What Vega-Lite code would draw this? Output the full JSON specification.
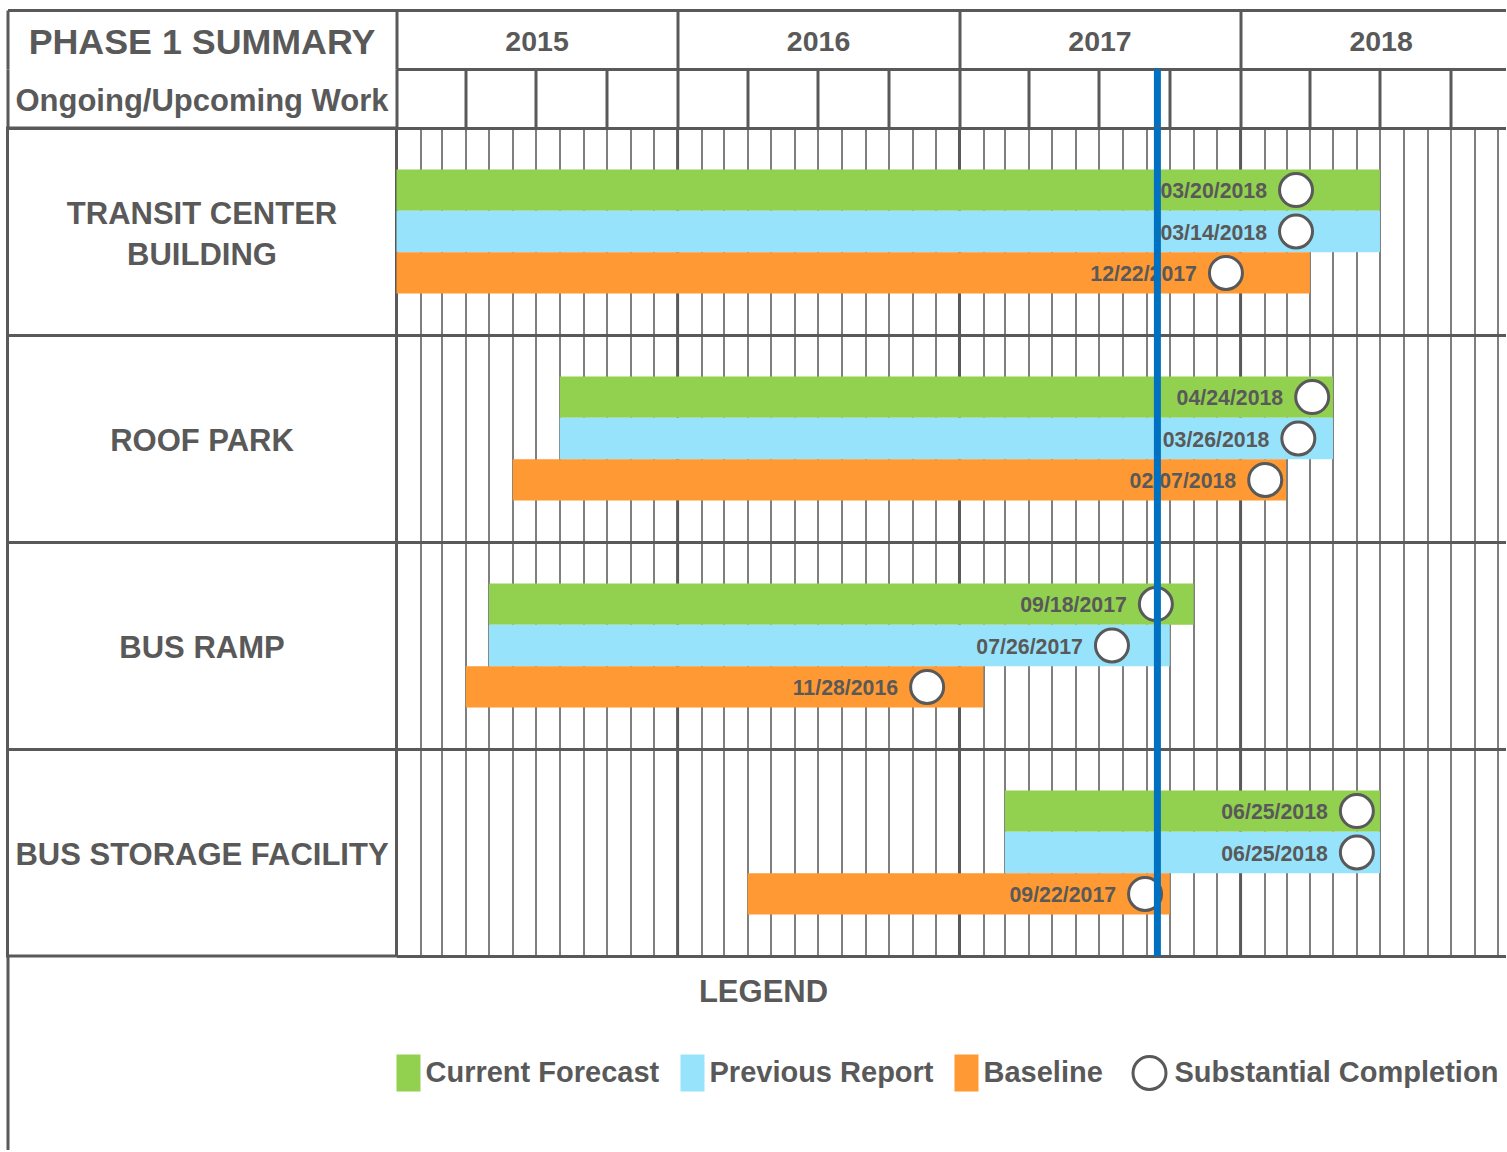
{
  "$schema": "https://vega.github.io/schema/vega-lite/v6.json",
  "padding": {"left": 5.5, "top": 10, "right": 0, "bottom": 0},
  "background": "white",
  "columns": 2,
  "spacing": 0,
  "bounds": "flush",
  "config": {
    "view": {"stroke": null},
    "font": "Liberation Sans",
    "axis": {"labels": false, "ticks": false, "title": null}
  },
  "resolve": {
    "scale": {"color": "independent", "stroke": "independent"},
    "legend": {"color": "independent", "stroke": "independent"}
  },
  "datasets": {
    "years": [
      {"year": "2015", "start": "2015-01-01"},
      {"year": "2016", "start": "2016-01-01"},
      {"year": "2017", "start": "2017-01-01"},
      {"year": "2018", "start": "2018-01-01"}
    ],
    "today": [{"date": "2017-09-15"}],
    "tasks": [
      {"task": "TRANSIT CENTER\nBUILDING"},
      {"task": "ROOF PARK"},
      {"task": "BUS RAMP"},
      {"task": "BUS STORAGE FACILITY"}
    ],
    "schedule": [
      {"task": "TRANSIT CENTER\nBUILDING", "series": "Current Forecast", "start": "2015-01-01", "end": "2018-07-01", "marker": "2018-03-14", "label": "03/20/2018"},
      {"task": "TRANSIT CENTER\nBUILDING", "series": "Previous Report", "start": "2015-01-01", "end": "2018-07-01", "marker": "2018-03-14", "label": "03/14/2018"},
      {"task": "TRANSIT CENTER\nBUILDING", "series": "Baseline", "start": "2015-01-01", "end": "2018-04-01", "marker": "2017-12-13", "label": "12/22/2017"},
      {"task": "ROOF PARK", "series": "Current Forecast", "start": "2015-08-01", "end": "2018-05-01", "marker": "2018-04-04", "label": "04/24/2018"},
      {"task": "ROOF PARK", "series": "Previous Report", "start": "2015-08-01", "end": "2018-05-01", "marker": "2018-03-17", "label": "03/26/2018"},
      {"task": "ROOF PARK", "series": "Baseline", "start": "2015-06-01", "end": "2018-03-01", "marker": "2018-02-02", "label": "02/07/2018"},
      {"task": "BUS RAMP", "series": "Current Forecast", "start": "2015-05-01", "end": "2017-11-01", "marker": "2017-09-13", "label": "09/18/2017"},
      {"task": "BUS RAMP", "series": "Previous Report", "start": "2015-05-01", "end": "2017-10-01", "marker": "2017-07-18", "label": "07/26/2017"},
      {"task": "BUS RAMP", "series": "Baseline", "start": "2015-04-01", "end": "2017-02-01", "marker": "2016-11-20", "label": "11/28/2016"},
      {"task": "BUS STORAGE FACILITY", "series": "Current Forecast", "start": "2017-03-01", "end": "2018-07-01", "marker": "2018-06-01", "label": "06/25/2018"},
      {"task": "BUS STORAGE FACILITY", "series": "Previous Report", "start": "2017-03-01", "end": "2018-07-01", "marker": "2018-06-01", "label": "06/25/2018"},
      {"task": "BUS STORAGE FACILITY", "series": "Baseline", "start": "2016-04-01", "end": "2017-10-01", "marker": "2017-08-30", "label": "09/22/2017"}
    ],
    "legendBars": [
      {"item": "Current Forecast"},
      {"item": "Previous Report"},
      {"item": "Baseline"}
    ],
    "legendMarker": [
      {"item": "Substantial Completion"}
    ]
  },
  "concat": [
    {
      "width": 389,
      "height": 59,
      "data": {"values": [{"text": "PHASE 1 SUMMARY"}]},
      "mark": {"type": "text", "fontSize": 35.8, "fontWeight": "bold", "color": "#595959", "baseline": "middle", "dy": 3},
      "encoding": {
        "x": {"field": "text", "type": "nominal", "axis": {"orient": "top", "labels": false, "ticks": false, "title": null, "domain": true, "domainColor": "#595959", "domainWidth": 3, "grid": false}},
        "y": {"field": "text", "type": "nominal", "axis": {"orient": "left", "labels": false, "ticks": false, "title": null, "domain": true, "domainColor": "#595959", "domainWidth": 3, "grid": false}},
        "text": {"field": "text"}
      }
    },
    {
      "width": 1109,
      "height": 59,
      "data": {"name": "years"},
      "mark": {"type": "text", "fontSize": 28.5, "fontWeight": "bold", "color": "#595959", "baseline": "middle", "dy": 2.5},
      "encoding": {
        "x": {
          "field": "start", "type": "temporal", "timeUnit": "utcyear", "bandPosition": 0.5,
          "scale": {"type": "utc", "domain": [{"year": 2015, "month": 1, "date": 1, "utc": true}, {"year": 2018, "month": 12, "date": 11, "utc": true}], "nice": false},
          "axis": {"orient": "top", "labels": false, "ticks": false, "title": null, "domain": true, "domainColor": "#595959", "domainWidth": 3, "grid": true, "gridColor": "#595959", "gridWidth": 3, "gridOpacity": 1, "gridDash": [], "tickCount": {"interval": "year", "step": 1}}
        },
        "text": {"field": "year"}
      }
    },
    {
      "width": 389,
      "height": 59,
      "data": {"values": [{"text": "Ongoing/Upcoming Work"}]},
      "mark": {"type": "text", "fontSize": 31, "fontWeight": "bold", "color": "#595959", "baseline": "middle", "dy": 3.5},
      "encoding": {
        "y": {"field": "text", "type": "nominal", "axis": {"orient": "left", "labels": false, "ticks": false, "title": null, "domain": true, "domainColor": "#595959", "domainWidth": 3, "grid": false}},
        "text": {"field": "text"}
      }
    },
    {
      "width": 1109,
      "height": 59,
      "data": {"name": "today"},
      "mark": {"type": "rule", "color": "#0070c0", "strokeWidth": 7},
      "encoding": {
        "x": {
          "field": "date", "type": "temporal",
          "scale": {"type": "utc", "domain": [{"year": 2015, "month": 1, "date": 1, "utc": true}, {"year": 2018, "month": 12, "date": 11, "utc": true}], "nice": false},
          "axis": {"orient": "top", "labels": false, "ticks": false, "title": null, "domain": true, "domainColor": "#595959", "domainWidth": 3, "grid": true, "gridColor": "#595959", "gridWidth": 3, "gridOpacity": 1, "gridDash": [], "tickCount": {"interval": "month", "step": 3}}
        }
      }
    },
    {
      "width": 389,
      "height": 828,
      "view": {"stroke": "#595959", "strokeWidth": 3},
      "data": {"name": "tasks"},
      "encoding": {
        "y": {
          "field": "task", "type": "nominal",
          "sort": ["TRANSIT CENTER\nBUILDING", "ROOF PARK", "BUS RAMP", "BUS STORAGE FACILITY"],
          "scale": {"type": "band", "paddingInner": 0, "paddingOuter": 0},
          "axis": {"grid": true, "bandPosition": 0, "gridColor": "#595959", "gridWidth": 3, "gridOpacity": 1, "labels": false, "ticks": false, "domain": false, "title": null}
        },
        "text": {"field": "task"}
      },
      "layer": [
        {
          "transform": [{"filter": "indexof(datum.task, '\\n') < 0"}],
          "mark": {"type": "text", "fontSize": 31, "fontWeight": "bold", "color": "#595959", "baseline": "middle", "dy": 3.5}
        },
        {
          "transform": [{"filter": "indexof(datum.task, '\\n') >= 0"}],
          "mark": {"type": "text", "fontSize": 31, "fontWeight": "bold", "color": "#595959", "lineBreak": "\n", "lineHeight": 41, "baseline": "middle", "dy": -17}
        }
      ]
    },
    {
      "width": 1109,
      "height": 828,
      "layer": [
        {
          "data": {"name": "years"},
          "mark": {"type": "rule", "color": "#595959", "strokeWidth": 3},
          "encoding": {
            "x": {
              "field": "start", "type": "temporal",
              "scale": {"type": "utc", "domain": [{"year": 2015, "month": 1, "date": 1, "utc": true}, {"year": 2018, "month": 12, "date": 11, "utc": true}], "nice": false},
              "axis": {"orient": "bottom", "labels": false, "ticks": false, "title": null, "domain": true, "domainColor": "#595959", "domainWidth": 3, "grid": true, "gridColor": "#5f5f5f", "gridWidth": 1.6, "gridOpacity": 1, "gridDash": [], "tickCount": {"interval": "month", "step": 1}}
            }
          }
        },
        {
          "data": {"name": "schedule"},
          "mark": {"type": "bar", "cornerRadius": 0},
          "encoding": {
            "x": {"field": "start", "type": "temporal"},
            "x2": {"field": "end"},
            "y": {
              "field": "task", "type": "nominal",
              "sort": ["TRANSIT CENTER\nBUILDING", "ROOF PARK", "BUS RAMP", "BUS STORAGE FACILITY"],
              "scale": {"type": "band", "paddingInner": 0, "paddingOuter": 0},
              "axis": {"grid": true, "bandPosition": 0, "gridColor": "#595959", "gridWidth": 3, "gridOpacity": 1, "labels": false, "ticks": false, "domain": false, "title": null}
            },
            "yOffset": {"field": "series", "type": "nominal", "sort": ["Current Forecast", "Previous Report", "Baseline"], "scale": {"paddingInner": 0, "paddingOuter": 1}},
            "color": {"field": "series", "type": "nominal", "scale": {"domain": ["Current Forecast", "Previous Report", "Baseline"], "range": ["#92d050", "#97e3fc", "#ff9933"]}, "legend": null}
          }
        },
        {
          "data": {"name": "schedule"},
          "mark": {"type": "point", "shape": "circle", "size": 1089, "fill": "white", "stroke": "#595959", "strokeWidth": 3, "opacity": 1, "filled": true},
          "encoding": {
            "x": {"field": "marker", "type": "temporal"},
            "y": {"field": "task", "type": "nominal", "sort": ["TRANSIT CENTER\nBUILDING", "ROOF PARK", "BUS RAMP", "BUS STORAGE FACILITY"]},
            "yOffset": {"field": "series", "type": "nominal", "sort": ["Current Forecast", "Previous Report", "Baseline"]}
          }
        },
        {
          "data": {"name": "schedule"},
          "mark": {"type": "text", "align": "right", "baseline": "middle", "dx": -29, "dy": 2, "fontSize": 21.3, "fontWeight": "bold", "color": "#595959"},
          "encoding": {
            "x": {"field": "marker", "type": "temporal"},
            "y": {"field": "task", "type": "nominal", "sort": ["TRANSIT CENTER\nBUILDING", "ROOF PARK", "BUS RAMP", "BUS STORAGE FACILITY"]},
            "yOffset": {"field": "series", "type": "nominal", "sort": ["Current Forecast", "Previous Report", "Baseline"]},
            "text": {"field": "label"}
          }
        },
        {
          "data": {"name": "today"},
          "mark": {"type": "rule", "color": "#0070c0", "strokeWidth": 7},
          "encoding": {"x": {"field": "date", "type": "temporal"}}
        }
      ]
    },
    {
      "width": 389,
      "height": 194,
      "layer": [
        {
          "data": {"name": "legendBars"},
          "mark": {"type": "point", "filled": true, "opacity": 0, "size": 1089},
          "encoding": {
            "y": {"field": "item", "type": "nominal", "sort": null, "axis": {"orient": "left", "labels": false, "ticks": false, "title": null, "domain": true, "domainColor": "#595959", "domainWidth": 3, "grid": false}},
            "color": {
              "field": "item", "type": "nominal",
              "scale": {"domain": ["Current Forecast", "Previous Report", "Baseline"], "range": ["#92d050", "#97e3fc", "#ff9933"]},
              "legend": {
                "orient": "none", "legendX": 384.5, "legendY": 100.5, "direction": "horizontal", "title": null,
                "symbolType": "M-0.727,-1.121H0.727V1.121H-0.727Z",
                "labelFont": "Liberation Sans", "labelFontSize": 29, "labelFontWeight": "bold", "labelColor": "#595959",
                "labelOffset": 0.5, "columnPadding": 16, "symbolSize": 1089, "symbolStrokeWidth": 0, "symbolOpacity": 1, "labelLimit": 0
              }
            }
          }
        },
        {
          "data": {"name": "legendMarker"},
          "mark": {"type": "point", "shape": "circle", "filled": false, "opacity": 0, "size": 1089, "strokeWidth": 3},
          "encoding": {
            "y": {"field": "item", "type": "nominal"},
            "stroke": {
              "field": "item", "type": "nominal",
              "scale": {"domain": ["Substantial Completion"], "range": ["#595959"]},
              "legend": {
                "orient": "none", "legendX": 1124, "legendY": 99, "direction": "horizontal", "title": null,
                "symbolType": "circle", "symbolFillColor": "white",
                "labelFont": "Liberation Sans", "labelFontSize": 29, "labelFontWeight": "bold", "labelColor": "#595959",
                "labelOffset": 7, "symbolSize": 1089, "symbolStrokeWidth": 3, "symbolOpacity": 1, "labelLimit": 0
              }
            }
          }
        },
        {
          "data": {"values": [{"t": "LEGEND"}]},
          "mark": {"type": "text", "fontSize": 31, "fontWeight": "bold", "color": "#595959", "baseline": "middle", "dx": 561.5, "dy": -60.5},
          "encoding": {"text": {"field": "t"}}
        }
      ]
    }
  ]
}
